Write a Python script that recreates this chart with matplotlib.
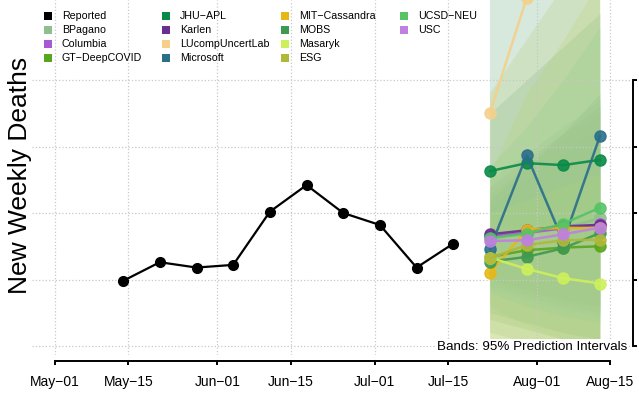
import datetime as dt

import matplotlib
matplotlib.use("Agg")
import matplotlib.dates as mdates
import matplotlib.pyplot as plt
from matplotlib.patches import Rectangle

plt.rcParams['font.family'] = ['Liberation Sans', 'DejaVu Sans']

# Reported weekly deaths
rep_dates = ['2020-05-14', '2020-05-21', '2020-05-28', '2020-06-04', '2020-06-11',
             '2020-06-18', '2020-06-25', '2020-07-02', '2020-07-09', '2020-07-16']
rep_vals = [198, 226, 218, 222, 302, 342, 300, 282, 218, 254]

# Forecast horizons (1-4 weeks ahead)
fc_dates = ['2020-07-23', '2020-07-30', '2020-08-06', '2020-08-13']

models = ['BPagano', 'Columbia', 'GT\u2212DeepCOVID', 'JHU\u2212APL', 'Karlen',
          'LUcompUncertLab', 'Microsoft', 'MIT\u2212Cassandra', 'MOBS', 'Masaryk',
          'ESG', 'UCSD\u2212NEU', 'USC']
colors = ['#8fbf8f', '#a85ad4', '#5aa51e', '#0a8a48', '#6a2e90',
          '#f5d08a', '#2a6e8a', '#e6b816', '#3f9a4f', '#cdf05a',
          '#b0b83a', '#55c465', '#c080e0']
# interval shading
band_colors = ['#8cc08c', '#9acb8a', '#7fb35a', '#5fa872', '#8fbf7a',
               '#a8d4b0', '#8fbfa0', '#b8cf6a', '#7fb87f', '#c8e478',
               '#b4c86a', '#90d090', '#a8c8a0']

medians = [
    [264, 271, 277, 292],   # BPagano
    [265, 270, 277, 283],   # Columbia
    [234, 244, 248, 250],   # GT-DeepCOVID
    [363, 375, 372, 380],   # JHU-APL
    [268, 274, 280, 282],   # Karlen
    [451, 623, 800, 950],   # LUcompUncertLab
    [246, 387, 257, 416],   # Microsoft
    [210, 275, 278, 277],   # MIT-Cassandra
    [227, 234, 247, 270],   # MOBS
    [233, 216, 202, 194],   # Masaryk
    [232, 252, 259, 260],   # ESG
    [262, 269, 284, 308],   # UCSD-NEU
    [258, 259, 268, 278],   # USC
]
lowers = [
    [190, 175, 160, 150],
    [200, 185, 170, 160],
    [140, 125, 110, 100],
    [290, 275, 265, 255],
    [195, 180, 165, 155],
    [160, 130, 110, 95],
    [120, 105, 95, 90],
    [110, 105, 100, 95],
    [150, 135, 120, 110],
    [105, 95, 90, 88],
    [95, 90, 88, 87],
    [180, 160, 145, 135],
    [185, 170, 155, 145],
]
uppers = [
    [340, 380, 420, 460],
    [330, 370, 410, 450],
    [310, 350, 390, 430],
    [450, 500, 550, 600],
    [350, 390, 430, 470],
    [900, 1000, 1100, 1200],
    [650, 700, 750, 800],
    [360, 480, 560, 650],
    [320, 370, 420, 480],
    [300, 320, 340, 360],
    [480, 560, 640, 720],
    [370, 430, 500, 580],
    [340, 380, 420, 460],
]

tick_dates = ['2020-05-01', '2020-05-15', '2020-06-01', '2020-06-15',
              '2020-07-01', '2020-07-15', '2020-08-01', '2020-08-15']
tick_labels = ['May\u221201', 'May\u221215', 'Jun\u221201', 'Jun\u221215',
               'Jul\u221201', 'Jul\u221215', 'Aug\u221201', 'Aug\u221215']
y_ticks = [100, 200, 300, 400, 500]


def to_num(dates):
    return mdates.date2num([dt.datetime.strptime(d, '%Y-%m-%d') for d in dates])


fig = plt.figure(figsize=(6.39, 3.94), dpi=100)
W, H = 639, 394
ax = fig.add_axes([31.7 / W, 1 - 355 / H, (633 - 31.7) / W, 355 / H])

xr = to_num(rep_dates)
xf = to_num(fc_dates)
xt = to_num(tick_dates)

# prediction bands
for lo, hi, c in zip(lowers, uppers, band_colors):
    ax.fill_between(xf, lo, hi, color=c, alpha=0.22, linewidth=0, zorder=1)

# forecasts
for med, c in zip(medians, colors):
    ax.plot(xf, med, color=c, lw=1.8, marker='o', ms=8, alpha=0.9, zorder=3)

ax.plot(xr, rep_vals, color='black', lw=1.6, marker='o', ms=7, zorder=4)

base = xt[0]
ax.set_xlim(base - 4.45, base + 110.3)
ax.set_ylim(86.5, 620.3)

ax.set_xticks(xt)
ax.set_xticklabels(tick_labels, fontsize=11)
ax.set_yticks(y_ticks)
ax.tick_params(axis='x', length=3, width=1.4, pad=7)
ax.tick_params(axis='y', left=False, labelleft=False, right=True, labelright=False,
               length=3, width=1.4)

ax.set_axisbelow('line')
ax.grid(True, color='#c8c8c8', linestyle=':', linewidth=0.9)

for s in ['top', 'left']:
    ax.spines[s].set_visible(False)
ax.spines['bottom'].set_position(('outward', 4.5))
ax.spines['bottom'].set_bounds(xt[0], xt[-1])
ax.spines['bottom'].set_linewidth(1.4)
ax.spines['right'].set_bounds(y_ticks[0], y_ticks[-1])
ax.spines['right'].set_linewidth(1.4)
ax.patch.set_alpha(0)

ax.text(0.99, 0.005, 'Bands: 95% Prediction Intervals', transform=ax.transAxes,
        ha='right', va='bottom', fontsize=9.6,
        bbox=dict(facecolor='white', edgecolor='none', pad=1.5), zorder=5)

fig.text(20 / W, 1 - 175 / H, 'New Weekly Deaths', rotation=90, fontsize=19,
         ha='center', va='center')

# legend drawn by hand (4 rows, column-major)
names = ['Reported'] + models
cols = ['black'] + colors
col_text_x = [62, 180, 299, 418]
row_y = [16, 30, 44, 58]
for i, (n, c) in enumerate(zip(names, cols)):
    ci, ri = divmod(i, 4)
    tx = col_text_x[ci]
    ty = row_y[ri]
    fig.patches.append(Rectangle(((tx - 18) / W, 1 - (ty + 4) / H), 8 / W, 8 / H,
                                 transform=fig.transFigure, facecolor=c,
                                 edgecolor='none', figure=fig))
    fig.text(tx / W, 1 - ty / H, n, fontsize=7.7, ha='left', va='center')

fig.savefig('out.png', dpi=100)
